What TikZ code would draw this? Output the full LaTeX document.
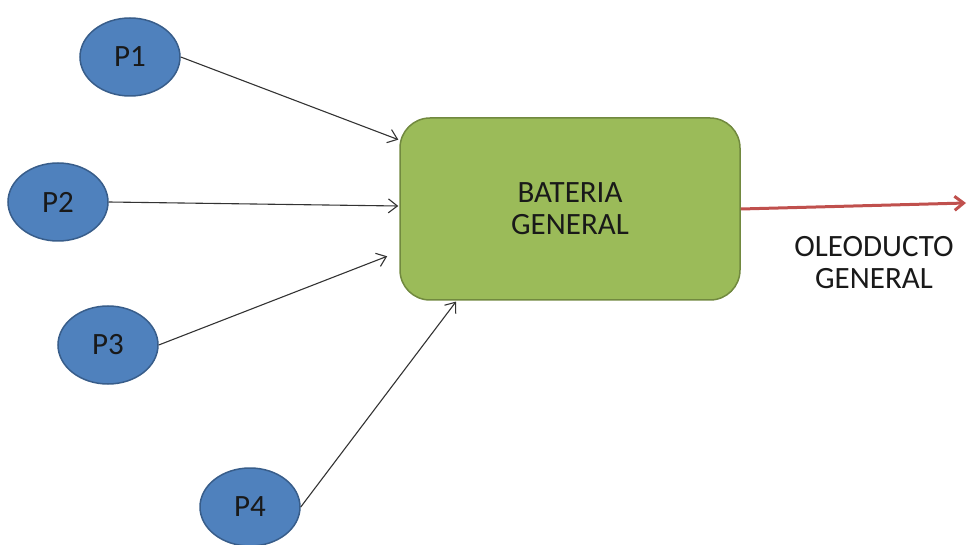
\documentclass[tikz,border=0pt]{standalone}
\usepackage{fontspec}
\setmainfont{Carlito}
\usepackage{tikz}
\usetikzlibrary{arrows.meta,shapes,positioning}
\definecolor{PozoBlue}{RGB}{79,129,189}
\definecolor{PozoEdge}{RGB}{56,93,138}
\definecolor{BatGreen}{RGB}{155,187,89}
\definecolor{BatEdge}{RGB}{113,137,63}
\definecolor{DuctoRed}{RGB}{192,80,77}

\begin{document}
\begin{tikzpicture} [x=1pt, y=-1pt, >={Straight Barb[length=9pt,width=14pt]}, black!80, text=black!90,
	   every node/.style={font=\fontsize{31}{32}\selectfont},
	   pozo/.style = {ellipse, minimum width=100pt, minimum height=78pt,
	                  line width=1.5pt, draw=PozoEdge, fill=PozoBlue, inner sep=0pt},
	   bateria/.style = {rectangle, rounded corners=30pt, minimum width=340pt,
	                     minimum height=182pt, line width=1.5pt, draw=BatEdge,
	                     fill=BatGreen, align=center},
	   flujo/.style = {->, line width=1.1pt, shorten >=1pt}]
	\useasboundingbox (0,0) rectangle (969,545);

	%% Wells
	\node [pozo] (p1) at (130,57) {P1};
	\node [pozo] (p2) at (58,202) {P2};
	\node [pozo] (p3) at (108,345) {P3};
	\node [pozo] (p4) at (250,507) {P4};

	%% Battery
	\node [bateria] (bat) at (570,209) {BATERIA\\GENERAL};

	%% Pipeline exit
	\coordinate (salida) at (966,203);
	\node [align=center] (oleo) at (874,263) {OLEODUCTO\\GENERAL};

	%% Flows into the battery
	\draw[flujo] (p1.east) -- (bat.158.8);
	\draw[flujo] (p2.east) -- (bat.179.3);
	\draw[flujo,shorten >=13pt] (p3.east) -- (bat.194.5);
	\draw[flujo] (p4.east) -- (bat.219.6);

	%% Flow out to the pipeline
	\draw[->,DuctoRed,line width=3pt] (bat.east) -- (salida);
\end{tikzpicture}
\end{document}
